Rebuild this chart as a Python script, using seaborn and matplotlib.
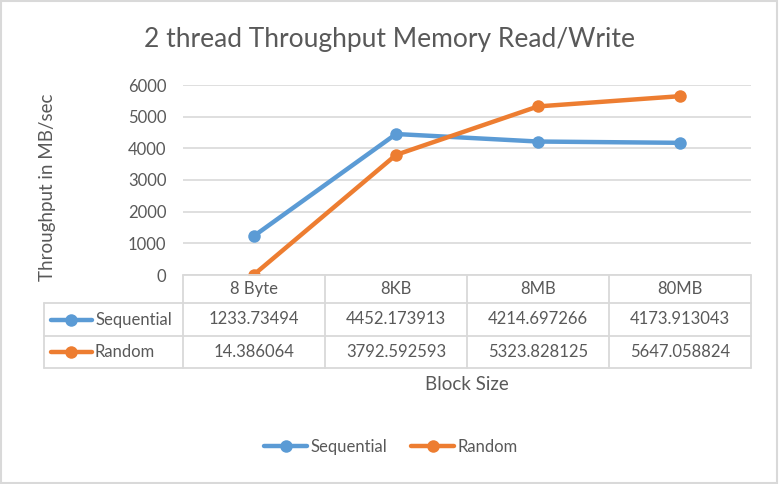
import matplotlib
matplotlib.use("Agg")
import matplotlib.pyplot as plt
from matplotlib.lines import Line2D
from matplotlib.patches import Rectangle
import seaborn as sns
import pandas as pd

block_sizes = ["8 Byte", "8KB", "8MB", "80MB"]
sequential = [1233.73494, 4452.173913, 4214.697266, 4173.913043]
random_rw = [14.386064, 3792.592593, 5323.828125, 5647.058824]
series_names = ["Sequential", "Random"]
colors = ["#5B9BD5", "#ED7D31"]
text_color = "#595959"
grid_color = "#D9D9D9"

sns.set_theme(style="white")
plt.rcParams["font.family"] = ["Lato", "DejaVu Sans"]

W, H = 779, 484
fig = plt.figure(figsize=(W / 100, H / 100), dpi=100)


def fx(x):
    return x / W


def fy(y):
    return 1 - y / H


# plot area in pixels
left, right, top, bottom = 183, 751, 85, 275
ax = fig.add_axes([fx(left), fy(bottom), fx(right - left), (bottom - top) / H])

rows = []
for name, vals in zip(series_names, [sequential, random_rw]):
    for i, (cat, v) in enumerate(zip(block_sizes, vals)):
        rows.append({"pos": i, "block": cat, "value": v, "series": name})
df = pd.DataFrame(rows)

sns.lineplot(data=df, x="pos", y="value", hue="series", palette=colors,
             marker="o", markersize=9, markeredgewidth=0, linewidth=3.2,
             legend=False, ax=ax)

ax.set_xlim(-0.5, len(block_sizes) - 0.5)
ax.set_ylim(0, 6000)
ax.set_yticks(range(0, 7000, 1000))
ax.set_xticks([])
ax.set_xlabel("")
ax.set_ylabel("")
ax.grid(axis="y", color=grid_color, linewidth=1.2)
ax.set_axisbelow(True)
for s in ax.spines.values():
    s.set_visible(False)
ax.tick_params(axis="y", length=0, pad=12, labelsize=12, labelcolor=text_color)

# title and axis titles
fig.text(0.5, fy(40), "2 thread Throughput Memory Read/Write", ha="center", va="center",
         fontsize=19, color=text_color)
fig.text(fx(48), fy(187), "Throughput in MB/sec", rotation=90, ha="center", va="center",
         fontsize=13.5, color=text_color)
fig.text(fx(467), fy(385), "Block Size", ha="center", va="center",
         fontsize=13.5, color=text_color)

# data table
fig.canvas.draw()
col_edges = []
for b in [i - 0.5 for i in range(len(block_sizes) + 1)]:
    px = ax.transData.transform((b, 0))[0]
    col_edges.append(px / fig.bbox.width)
row_y = [275, 303, 336, 368]
tbl_left = fx(44)


def hline(x0, x1, y):
    fig.add_artist(Line2D([x0, x1], [fy(y), fy(y)], color=grid_color, lw=1.3))


def vline(x, y0, y1):
    fig.add_artist(Line2D([x, x], [fy(y0), fy(y1)], color=grid_color, lw=1.3))


hline(col_edges[0], col_edges[-1], row_y[0])
for y in row_y[1:]:
    hline(tbl_left, col_edges[-1], y)
for x in col_edges:
    vline(x, row_y[0], row_y[-1])
vline(tbl_left, row_y[1], row_y[-1])

for i, cat in enumerate(block_sizes):
    cx = (col_edges[i] + col_edges[i + 1]) / 2
    fig.text(cx, fy((row_y[0] + row_y[1]) / 2), cat, ha="center", va="center",
             fontsize=12, color=text_color)

for r, (name, vals, c) in enumerate(zip(series_names, [sequential, random_rw], colors)):
    yc = fy((row_y[r + 1] + row_y[r + 2]) / 2)
    fig.add_artist(Line2D([fx(51), fx(92)], [yc, yc], color=c, lw=3.2, solid_capstyle="round"))
    fig.add_artist(Line2D([fx(71)], [yc], color=c, marker="o", markersize=9,
                          markeredgewidth=0))
    fig.text(fx(95), yc, name, ha="left", va="center", fontsize=12, color=text_color)
    for i, v in enumerate(vals):
        cx = (col_edges[i] + col_edges[i + 1]) / 2
        fig.text(cx, yc, str(v), ha="center", va="center", fontsize=12, color=text_color)

# legend
handles = [Line2D([], [], color=c, lw=3.2, marker="o", markersize=9, markeredgewidth=0)
           for c in colors]
leg = fig.legend(handles, series_names, loc="center", bbox_to_anchor=(fx(391), fy(447)),
                 ncol=2, frameon=False, fontsize=12, handlelength=2.6, handletextpad=0.2,
                 columnspacing=1.4)
for t in leg.get_texts():
    t.set_color(text_color)

# outer border
fig.add_artist(Rectangle((0.001, 0.002), 0.997, 0.996, transform=fig.transFigure,
                         fill=False, edgecolor=grid_color, lw=1.5))

fig.savefig("out.png", dpi=100)
